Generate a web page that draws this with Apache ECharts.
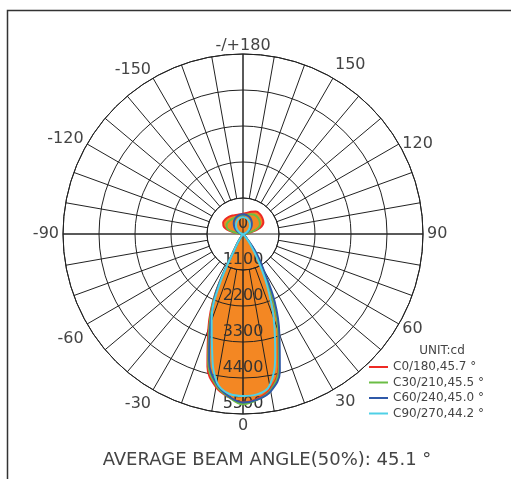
<!DOCTYPE html>
<html>
<head>
<meta charset="utf-8">
<title>polar curve</title>
<script src="https://cdn.jsdelivr.net/npm/echarts@6.0.0/dist/echarts.min.js"></script>
<style>
html,body{margin:0;padding:0;background:#fff;}
#polar{width:511px;height:479px;}
</style>
</head>
<body>
<div id="polar"></div>
<script>
// gamma (deg), 0 = straight down, 180 = straight up
var gamma = [0,5,10,15,20,25,30,35,40,50,60,70,80,90,100,110,120,130,140,150,160,170,180];

// intensity (cd) per C plane
var c0   = [5150,5050,4800,4200,3150,2050,1150,600,150,10,0,0,0,0,200,550,720,770,800,790,720,650,620];
var c180 = [5150,5000,4750,4200,3100,2000,450,80,20,5,0,0,0,0,300,620,700,700,680,650,620,610,620];
var c30  = [5200,5080,4850,4250,3150,2100,1150,600,150,10,0,0,0,0,150,450,600,650,680,680,640,600,580];
var c210 = [5200,5000,4700,4100,3000,1950,420,80,20,5,0,0,0,0,250,520,580,580,570,560,560,570,580];
var c60  = [5150,5080,4880,4350,3250,2300,1250,700,200,20,0,0,0,0,40,120,230,330,420,500,560,590,600];
var c240 = [5150,4980,4650,4000,2900,1900,400,80,20,5,0,0,0,0,40,130,250,350,440,510,560,590,600];
var c90  = [4950,4920,4700,3800,2750,1750,900,400,100,10,0,0,0,0,20,80,160,250,330,400,460,500,520];
var c270 = [4950,4900,4600,3650,2800,1700,380,70,20,5,0,0,0,0,20,80,160,250,330,400,460,500,520];

var planeNames = ['C0/180,45.7 °','C30/210,45.5 °','C60/240,45.0 °','C90/270,44.2 °'];
var planeColors = ['#ee2a24','#6bbd45','#2f59a8','#4fd0e6'];
var radiusTicks = [0,1100,2200,3300,4400,5500];
var angleTicks = [0,30,60,90,120,150,180,210,240,270,300,330];
</script>
<script>
(function(){
	var chart = echarts.init(document.getElementById('polar'));
	var font = 'DejaVu Sans';
	var weight = 'normal';
	var ink = '#444';
	var cx = 243, cy = 234, R = 180;

	// left half (negative gamma) from the top down, then right half from the bottom up
	function curve(right, left){
		var pts = [];
		for (var i = gamma.length - 1; i > 0; i--) pts.push([left[i], 360 - gamma[i]]);
		for (var j = 0; j < gamma.length; j++) pts.push([right[j], gamma[j]]);
		return pts;
	}
	function angleText(v){
		if (v === 180) return '-/+180';
		return v > 180 ? String(v - 360) : String(v);
	}
	var planes = [[c0,c180],[c30,c210],[c60,c240],[c90,c270]];

	var series = [{
		// orange fill under C0/180
		name: planeNames[0],
		type: 'line',
		coordinateSystem: 'polar',
		polarIndex: 1,
		showSymbol: false,
		smooth: 0.4,
		z: 1,
		silent: true,
		itemStyle: {color: planeColors[0]},
		lineStyle: {width: 0, color: planeColors[0]},
		areaStyle: {color: '#f38723', opacity: 1},
		data: curve(c0, c180)
	}];
	for (var k = 0; k < planes.length; k++) {
		series.push({
			name: planeNames[k],
			type: 'line',
			coordinateSystem: 'polar',
			polarIndex: 1,
			showSymbol: false,
			smooth: 0.4,
			z: 10,
			itemStyle: {color: planeColors[k]},
			lineStyle: {width: 2, color: planeColors[k]},
			data: curve(planes[k][0], planes[k][1])
		});
	}

	var polar = [
		{center: [cx, cy], radius: [36, R]},//spokes only outside the inner ring
		{center: [cx, cy], radius: R}
	];
	var angleAxis = [{
		polarIndex: 0,
		type: 'value',
		min: 0,
		max: 360,
		interval: 10,
		startAngle: 270,
		clockwise: false,
		z: 5,
		axisLine: {lineStyle: {color: '#222', width: 1}},
		axisTick: {show: false},
		axisLabel: {show: false},
		splitLine: {lineStyle: {color: '#222', width: 1}}
	},{
		polarIndex: 1,
		type: 'value',
		min: 0,
		max: 360,
		interval: 90,
		startAngle: 270,
		clockwise: false,
		z: 5,
		axisLine: {show: false},
		axisTick: {show: false},
		axisLabel: {show: false},
		splitLine: {lineStyle: {color: '#222', width: 1}}
	}];
	var radiusAxis = [{
		polarIndex: 0,
		type: 'value',
		min: 0,
		max: 1,
		show: false
	},{
		polarIndex: 1,
		type: 'value',
		min: radiusTicks[0],
		max: radiusTicks[radiusTicks.length - 1],
		interval: radiusTicks[1] - radiusTicks[0],
		z: 5,
		axisLine: {show: false},
		axisTick: {show: false},
		axisLabel: {fontSize: 16, color: '#333', margin: 0, align: 'center', verticalAlign: 'bottom',
			fontFamily: font, fontWeight: weight, padding: [0, 0, 2, 0],
			formatter: function(v){ return String(v); }},
		splitLine: {lineStyle: {color: '#222', width: 1}}
	}];

	// angle labels, a few of them sit a little lower/higher in the original
	var labelShift = {0:0, 30:0, 60:-5, 90:0, 120:10, 150:-2, 180:4, 210:3, 240:5, 270:0, 300:5, 330:2};
	var groups = {};
	angleTicks.forEach(function(a){
		var s = labelShift[a];
		(groups[s] = groups[s] || []).push(a);
	});
	Object.keys(groups).forEach(function(s){
		var list = groups[s];
		var idx = polar.length;
		polar.push({center: [cx, cy + Number(s)], radius: R});
		angleAxis.push({
			polarIndex: idx,
			type: 'value',
			min: 0,
			max: 360,
			interval: 30,
			startAngle: 270,
			clockwise: false,
			axisLine: {show: false},
			axisTick: {show: false},
			splitLine: {show: false},
			axisLabel: {
				fontSize: 16,
				color: ink,
				margin: 4,
				fontFamily: font,
				fontWeight: weight,
				formatter: function(v){
					return list.indexOf(v) >= 0 ? angleText(v) : '';
				}
			}
		});
		radiusAxis.push({polarIndex: idx, type: 'value', min: 0, max: 1, show: false});
	});

	var option = {
		backgroundColor: '#fff',
		textStyle: {fontFamily: font},
		animation: false,
		title: [{
			text: 'AVERAGE BEAM ANGLE(50%): 45.1 °',
			left: 262,
			top: 446,
			textAlign: 'center',
			textStyle: {fontSize: 18, fontWeight: weight, color: ink, fontFamily: font}
		},{
			text: 'UNIT:cd',
			left: 437,
			top: 340,
			textAlign: 'center',
			textStyle: {fontSize: 12, fontWeight: weight, color: ink, fontFamily: font}
		}],
		legend: {
			orient: 'vertical',
			left: 364,
			top: 356,
			icon: 'rect',
			itemWidth: 19,
			itemHeight: 2,
			itemGap: 3.5,
			textStyle: {fontSize: 12, color: ink, fontFamily: font, fontWeight: weight},
			data: planeNames
		},
		graphic: [{
			type: 'rect',
			shape: {x: 7.5, y: 10.5, width: 600, height: 600},
			style: {fill: 'none', stroke: '#333', lineWidth: 1.5}
		}],
		polar: polar,
		angleAxis: angleAxis,
		radiusAxis: radiusAxis,
		series: series
	};
	chart.setOption(option);
	window.addEventListener('resize', function(){
		chart.resize();
	});
})();
</script>
</body>
</html>
